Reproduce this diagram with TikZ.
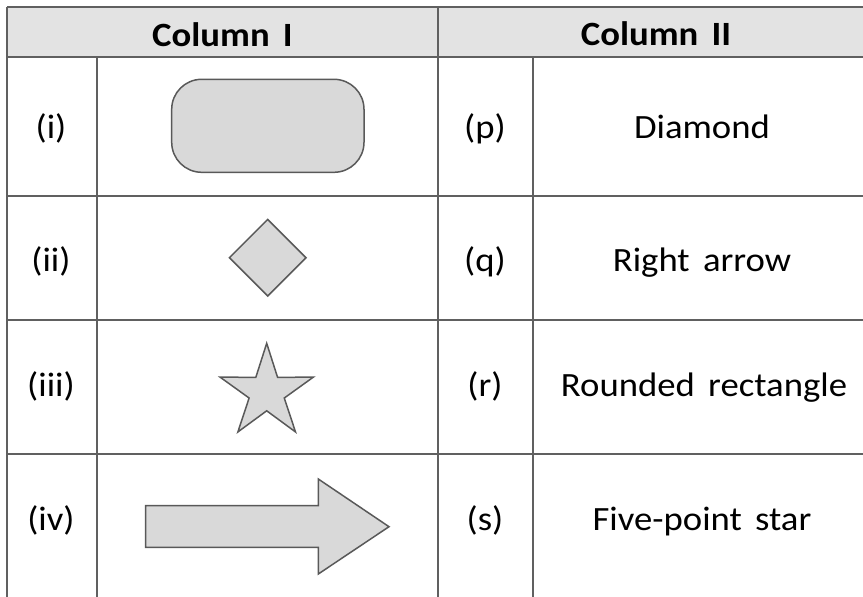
\documentclass[tikz,border=0pt]{standalone}
\usepackage{fontspec}
\setmainfont{Carlito}[FakeStretch=1.08, WordSpace=1.6]
\definecolor{gridc}{HTML}{606060}
\definecolor{headc}{HTML}{E3E3E3}
\definecolor{shapefill}{HTML}{D9D9D9}
\definecolor{shapeline}{HTML}{595959}
\begin{document}
\begin{tikzpicture}[x=1pt,y=-1pt,
  grid/.style={draw=gridc,line width=2pt},
  shp/.style={draw=shapeline,fill=shapefill,line width=1.5pt,line join=miter},
  txt/.style={inner sep=0pt,anchor=base,font=\fontsize{34}{40}\selectfont},
  hdr/.style={inner sep=0pt,anchor=base,font=\fontsize{34}{40}\selectfont\bfseries}]
\useasboundingbox (0,0) rectangle (863,597);
% header
\fill[headc] (7,7) rectangle (863,56.5);
\draw[grid] (7,7) -- (863,7);
\draw[grid] (7,56.5) -- (863,56.5);
\draw[grid] (7,7) -- (7,597);
\draw[grid] (438,7) -- (438,597);
\draw[grid] (97,56.5) -- (97,597);
\draw[grid] (532.7,56.5) -- (532.7,597);
\draw[grid] (7,195.7) -- (863,195.7);
\draw[grid] (7,320) -- (863,320);
\draw[grid] (7,454.3) -- (863,454.3);
\node[hdr] (h1) at (222.5,46.5) {Column I};
\node[hdr] (h2) at (656,45.5) {Column II};
% labels
\node[txt] (li) at (51,138.3) {(i)};
\node[txt] (lii) at (51,271.7) {(ii)};
\node[txt] (liii) at (51,396) {(iii)};
\node[txt] (liv) at (51,530) {(iv)};
\node[txt] (lp) at (485,138.3) {(p)};
\node[txt] (lq) at (485,271.7) {(q)};
\node[txt] (lr) at (485,396) {(r)};
\node[txt] (ls) at (485,530) {(s)};
\node[txt] (tp) at (702,138.3) {Diamond};
\node[txt] (tq) at (702,271.7) {Right arrow};
\node[txt] (tr) at (704,396) {Rounded rectangle};
\node[txt] (ts) at (702,530) {Five-point star};
% shapes
\draw[shp,rounded corners=30pt] (171.7,79.3) rectangle (364,172.3);
\draw[shp] (267.7,219.4) -- (306,257.7) -- (267.7,296) -- (229.4,257.7) -- cycle;
\begin{scope}[shift={(266.7,392.3)}]
\draw[shp] (-90:49) -- (-54:18.5) -- (-18:49) -- (18:18.5) -- (54:49) -- (90:18.5)
  -- (126:49) -- (162:18.5) -- (198:49) -- (234:18.5) -- cycle;
\end{scope}
\draw[shp] (145.7,505.7) -- (318.3,505.7) -- (318.3,479) -- (389,526.7)
  -- (318.3,574) -- (318.3,547.3) -- (145.7,547.3) -- cycle;
\end{tikzpicture}
\end{document}
